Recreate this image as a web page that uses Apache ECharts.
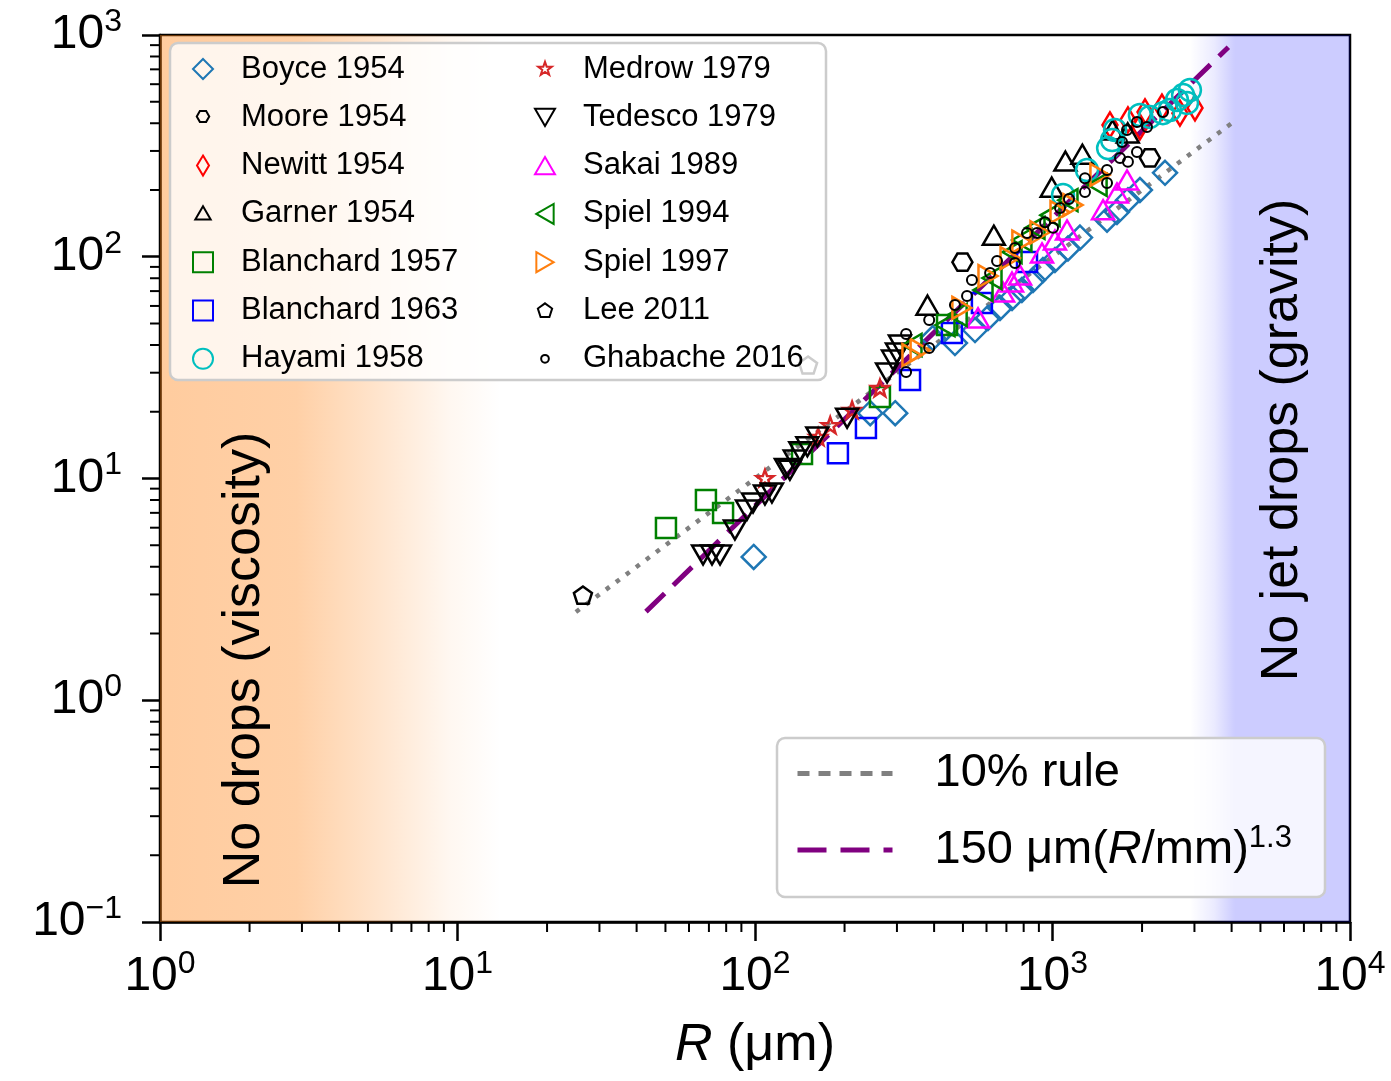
<!DOCTYPE html>
<html>
<head>
<meta charset="utf-8">
<script src="https://cdn.jsdelivr.net/npm/echarts@6/dist/echarts.min.js"></script>
<style>
  html, body { margin: 0; background: #fff; }
  #chart { width: 1391px; height: 1081px; }
</style>
</head>
<body>
<div id="chart"></div>
<script>
// --- data (R in um, h in um) ---
const boyceR = [99, 244, 296, 396, 470, 549, 607, 666, 731, 789, 860, 929, 1019, 1127, 1237, 1525, 1647, 1793, 1967, 2389];
const boyceH = [4.43, 19.7, 19.7, 43, 40.8, 46.7, 53, 58.8, 65.2, 70.8, 78.5, 87.1, 96.7, 109, 122, 147, 159, 180, 200, 239];
const mooreR = [498, 2125];
const mooreH = [94.5, 279];
const newittR = [1560, 1793, 1967, 2046, 2333, 2681, 3013];
const newittH = [393, 414, 385, 450, 473, 444, 469];
const garnerR = [380, 635, 994, 1105, 1260, 1590, 1790];
const garnerH = [60.5, 125, 206, 270, 290, 373, 362];
const blanch57R = [50.2, 68.4, 78.1, 143.9, 263, 442];
const blanch57H = [5.98, 8.0, 6.99, 12.9, 23.3, 49.2];
const blanch63R = [190, 236, 332, 459, 579, 821];
const blanch63H = [13.0, 16.9, 27.8, 45.3, 61.8, 94.7];
const hayamiR = [1085, 1306, 1538, 1586, 1623, 1967, 2125, 2350, 2481, 2621, 2748, 2897, 2832];
const hayamiH = [190, 246, 309, 336, 373, 436, 427, 444, 459, 509, 536, 565, 494];
const medrowR = [108, 163, 179, 212, 263];
const medrowH = [10.05, 15.4, 17.4, 20.4, 25.6];
const tedescoR = [66.9, 71.7, 76.3, 85.6, 94, 98.5, 108, 114, 127, 131, 136, 142, 150, 162, 204, 278, 291, 300, 307];
const tedescoH = [4.52, 4.52, 4.52, 5.86, 7.2, 7.76, 8.43, 8.6, 11.1, 10.9, 12.1, 13.2, 13.9, 15.4, 18.7, 29.9, 34.2, 36.8, 40];
const sakaiR = [562, 682, 731, 778, 922, 1019, 1119, 1479, 1647, 1780];
const sakaiH = [53, 69.3, 76.9, 82.7, 104, 119, 132, 163, 194, 222];
const spiel94R = [337, 435, 478, 584, 626, 731, 789, 873, 981, 1127, 1412];
const spiel94H = [40, 49.2, 54.6, 70.8, 80.2, 105, 119, 135, 154, 180, 211];
const spiel97R = [337, 359, 496, 607, 720, 789, 908, 1060, 1172, 1444];
const spiel97H = [36, 37.9, 58.8, 81.8, 98.6, 117, 129, 159, 171, 234];
const leeR = [26.4, 150.8];
const leeH = [2.98, 32.5];
const ghabacheR = [322, 322, 385, 385, 470, 516, 536, 617, 651, 748, 748, 821, 887, 944, 1004, 1060, 1136, 1286, 1286, 1525, 1525, 1686, 1793, 1923, 1713, 1780, 1923, 2078, 2352];
const ghabacheH = [44.8, 30.2, 51.8, 38.8, 60.6, 66.5, 78.5, 84.5, 95.7, 93.7, 109.5, 128, 128, 143, 135, 166, 182, 226, 196, 246, 215, 279, 268, 297, 329, 373, 405, 385, 450];

// model lines (end points)
const ruleR = [25, 4000];
const ruleH = [2.5, 400];
const fitR = [43, 3900];
const fitH = [2.51, 880];

// regime bands (R limits)
const viscBand = [1, 14];
const gravBand = [2900, 10000];

// minor tick values
const minorXTicks = [2, 3, 4, 5, 6, 7, 8, 9, 20, 30, 40, 50, 60, 70, 80, 90, 200, 300, 400, 500, 600, 700, 800, 900, 2000, 3000, 4000, 5000, 6000, 7000, 8000, 9000];
const minorYTicks = [0.2, 0.3, 0.4, 0.5, 0.6, 0.7, 0.8, 0.9, 2, 3, 4, 5, 6, 7, 8, 9, 20, 30, 40, 50, 60, 70, 80, 90, 200, 300, 400, 500, 600, 700, 800, 900];

const FONT = '"Liberation Sans", Arial, Helvetica, sans-serif';

// marker shapes
const SYM = {
  diamond: 'path://M5,0 L10,5 L5,10 L0,5 Z',
  thinDiamond: 'path://M3,0 L6,5 L3,10 L0,5 Z',
  square: 'path://M0,0 L10,0 L10,10 L0,10 Z',
  circle: 'path://M0,5 A5,5 0 1,0 10,5 A5,5 0 1,0 0,5 Z',
  triUp: 'path://M5,0 L10,8.66 L0,8.66 Z',
  triDown: 'path://M0,0 L10,0 L5,8.66 Z',
  triLeft: 'path://M0,5 L8.66,0 L8.66,10 Z',
  triRight: 'path://M0,0 L8.66,5 L0,10 Z',
  hexagon: 'path://M0,4.33 L2.5,0 L7.5,0 L10,4.33 L7.5,8.66 L2.5,8.66 Z',
  pentagon: 'path://M5,0 L10,3.63 L8.09,9.51 L1.91,9.51 L0,3.63 Z',
  star: 'path://M5,0 L6.18,3.38 L9.76,3.45 L6.9,5.62 L7.94,9.05 L5,7 L2.06,9.05 L3.1,5.62 L0.24,3.45 L3.82,3.38 Z'
};
// padded icons so small markers stay small in the legend
const ICON_SMALL = {
  star: 'path://M-2,-2 M12,12 M5,0 L6.18,3.38 L9.76,3.45 L6.9,5.62 L7.94,9.05 L5,7 L2.06,9.05 L3.1,5.62 L0.24,3.45 L3.82,3.38 Z',
  hexagon: 'path://M-3,-3 M13,13 M0,4.33 L2.5,0 L7.5,0 L10,4.33 L7.5,8.66 L2.5,8.66 Z',
  dot: 'path://M-8,-8 M18,18 M0,5 A5,5 0 1,0 10,5 A5,5 0 1,0 0,5 Z',
  pentagon: 'path://M-2,-2 M12,12 M5,0 L10,3.63 L8.09,9.51 L1.91,9.51 L0,3.63 Z',
  triangle: 'path://M-1.5,-1.5 M11.5,11.5 M5,0 L10,8.66 L0,8.66 Z'
};

const zip = (a, b) => a.map((v, i) => [v, b[i]]);

const scatter = (name, R, H, symbol, size, color, lw) => ({
  name: name,
  type: 'scatter',
  data: zip(R, H),
  symbol: symbol,
  symbolSize: size,
  symbolKeepAspect: true,
  itemStyle: { color: 'rgba(0,0,0,0)', borderColor: color, borderWidth: lw || 2.5, opacity: 1 },
  emphasis: { disabled: true },
  z: 2
});

const scatterSeries = [
  scatter('Boyce 1954', boyceR, boyceH, SYM.diamond, 24, '#1f77b4'),
  scatter('Moore 1954', mooreR, mooreH, SYM.hexagon, 20, '#000000'),
  scatter('Newitt 1954', newittR, newittH, SYM.thinDiamond, 25, '#ff0000'),
  scatter('Garner 1954', garnerR, garnerH, SYM.triUp, 22, '#000000'),
  scatter('Blanchard 1957', blanch57R, blanch57H, SYM.square, 20, '#008000'),
  scatter('Blanchard 1963', blanch63R, blanch63H, SYM.square, 20, '#0000ff'),
  scatter('Hayami 1958', hayamiR, hayamiH, SYM.circle, 22, '#00bfbf'),
  scatter('Medrow 1979', medrowR, medrowH, SYM.star, 17, '#d62728'),
  scatter('Tedesco 1979', tedescoR, tedescoH, SYM.triDown, 22, '#000000'),
  scatter('Sakai 1989', sakaiR, sakaiH, SYM.triUp, 22, '#ff00ff'),
  scatter('Spiel 1994', spiel94R, spiel94H, SYM.triLeft, 22, '#008000'),
  scatter('Spiel 1997', spiel97R, spiel97H, SYM.triRight, 22, '#ff7f0e'),
  scatter('Lee 2011', leeR, leeH, SYM.pentagon, 18, '#000000'),
  scatter('Ghabache 2016', ghabacheR, ghabacheH, SYM.circle, 10, '#000000', 2)
];

const legendIcons = {
  'Moore 1954': ICON_SMALL.hexagon,
  'Garner 1954': ICON_SMALL.triangle,
  'Medrow 1979': ICON_SMALL.star,
  'Lee 2011': ICON_SMALL.pentagon,
  'Ghabache 2016': ICON_SMALL.dot
};
const legendData = names => names.map(n => {
  const s = scatterSeries.find(x => x.name === n);
  return { name: n, icon: legendIcons[n] || s.symbol };
});

const powLabel = v => {
  const e = Math.round(Math.log10(v));
  return '{b|10}{s|' + (e < 0 ? '\u2212' + (-e) : e) + '}';
};
const tickRich = {
  b: { fontSize: 48, lineHeight: 58, fontFamily: FONT, color: '#000' },
  s: { fontSize: 32, lineHeight: 32, fontFamily: FONT, color: '#000', verticalAlign: 'top' }
};

const minorTickSeries = (values, isX) => ({
  type: 'custom',
  silent: true,
  clip: false,
  z: 5,
  data: values.map(v => isX ? [v, 0.1] : [1, v]),
  renderItem: (params, api) => {
    const p = api.coord([api.value(0), api.value(1)]);
    return {
      type: 'line',
      shape: isX ? { x1: p[0], y1: p[1], x2: p[0], y2: p[1] + 10 }
                 : { x1: p[0], y1: p[1], x2: p[0] - 10, y2: p[1] },
      style: { stroke: '#000', lineWidth: 2 }
    };
  }
});

const legendText = { fontSize: 31, lineHeight: 34, fontFamily: FONT, color: '#000', padding: [0, 0, 0, 23] };

const chart = echarts.init(document.getElementById('chart'));

const option = {
  backgroundColor: '#ffffff',
  animation: false,
  grid: {
    left: 160, top: 35, right: 41, bottom: 159,
    show: true, borderColor: '#000', borderWidth: 2.5, backgroundColor: '#ffffff'
  },
  xAxis: {
    type: 'log', logBase: 10, min: 1, max: 10000, splitNumber: 4,
    name: '{i|R}{n| (\u03bcm)}',
    nameLocation: 'middle', nameGap: 98,
    nameTextStyle: {
      rich: {
        i: { fontSize: 52, fontStyle: 'italic', fontFamily: FONT, color: '#000' },
        n: { fontSize: 52, fontFamily: FONT, color: '#000' }
      }
    },
    axisLine: { lineStyle: { color: '#000', width: 2.5 } },
    axisTick: { inside: false, length: 19, lineStyle: { color: '#000', width: 2.5 } },
    axisLabel: { formatter: powLabel, rich: tickRich, margin: 26, showMinLabel: true, showMaxLabel: true },
    splitLine: { show: false }
  },
  yAxis: {
    type: 'log', logBase: 10, min: 0.1, max: 1000, splitNumber: 4,
    axisLine: { lineStyle: { color: '#000', width: 2.5 } },
    axisTick: { inside: false, length: 18, lineStyle: { color: '#000', width: 2.5 } },
    axisLabel: { formatter: powLabel, rich: tickRich, margin: 38, showMinLabel: true, showMaxLabel: true },
    splitLine: { show: false }
  },
  legend: [
    {
      orient: 'vertical', left: 192, top: 52, padding: 0,
      itemGap: 14.3, itemWidth: 20, itemHeight: 20, selectedMode: false,
      data: legendData(['Boyce 1954', 'Moore 1954', 'Newitt 1954', 'Garner 1954', 'Blanchard 1957', 'Blanchard 1963', 'Hayami 1958']),
      textStyle: legendText
    },
    {
      orient: 'vertical', left: 534, top: 52, padding: 0,
      itemGap: 14.3, itemWidth: 20, itemHeight: 20, selectedMode: false,
      data: legendData(['Medrow 1979', 'Tedesco 1979', 'Sakai 1989', 'Spiel 1994', 'Spiel 1997', 'Lee 2011', 'Ghabache 2016']),
      textStyle: legendText
    },
    {
      orient: 'vertical', left: 795, top: 750, padding: 0,
      itemGap: 26, itemWidth: 95, itemHeight: 14, selectedMode: false,
      itemStyle: { color: 'rgba(0,0,0,0)', borderWidth: 0, opacity: 0 },
      data: [
        { name: '10% rule', lineStyle: { width: 5, type: [12, 9] } },
        { name: '150 \u03bcm(R/mm)^1.3', lineStyle: { width: 5, type: [29, 14] } }
      ],
      formatter: name => name === '10% rule'
        ? '{n|10% rule}'
        : '{n|150 \u03bcm(}{i|R}{n|/mm)}{s|1.3}',
      textStyle: {
        padding: [0, 0, 0, 37],
        rich: {
          n: { fontSize: 47, lineHeight: 54, fontFamily: FONT, color: '#000' },
          i: { fontSize: 47, lineHeight: 54, fontStyle: 'italic', fontFamily: FONT, color: '#000' },
          s: { fontSize: 31, lineHeight: 31, fontFamily: FONT, color: '#000', verticalAlign: 'top' }
        }
      }
    }
  ],
  graphic: [
    {
      type: 'text', x: 245, y: 660, rotation: Math.PI / 2, z: 3, silent: true,
      style: { text: 'No drops (viscosity)', fontSize: 52, fontFamily: FONT, fill: '#000', align: 'center', verticalAlign: 'middle' }
    },
    {
      type: 'text', x: 1283, y: 440, rotation: Math.PI / 2, z: 3, silent: true,
      style: { text: 'No jet drops (gravity)', fontSize: 52, fontFamily: FONT, fill: '#000', align: 'center', verticalAlign: 'middle' }
    },
    {
      type: 'rect', z: 3, silent: true,
      shape: { x: 170, y: 43, width: 656, height: 337, r: 8 },
      style: { fill: 'rgba(255,255,255,0.8)', stroke: '#cccccc', lineWidth: 2.5 }
    },
    {
      type: 'rect', z: 3, silent: true,
      shape: { x: 777, y: 738, width: 548, height: 159, r: 8 },
      style: { fill: 'rgba(255,255,255,0.8)', stroke: '#cccccc', lineWidth: 2.5 }
    }
  ],
  series: [
    {
      name: '10% rule',
      type: 'line',
      data: zip(ruleR, ruleH),
      symbol: 'none',
      z: 1,
      silent: true,
      lineStyle: { color: '#808080', width: 4.5, type: [4.5, 8] },
      itemStyle: { color: '#808080' },
      markArea: {
        silent: true,
        label: { show: false },
        data: [
          [{ xAxis: viscBand[0], yAxis: 0.1, itemStyle: { opacity: 1, color: {
              type: 'linear', x: 0, y: 0, x2: 1, y2: 0,
              colorStops: [
                { offset: 0, color: 'rgba(255,127,14,0.4)' },
                { offset: 0.4, color: 'rgba(255,127,14,0.37)' },
                { offset: 0.65, color: 'rgba(255,127,14,0.2)' },
                { offset: 0.85, color: 'rgba(255,127,14,0.06)' },
                { offset: 1, color: 'rgba(255,127,14,0)' }
              ] } } },
           { xAxis: viscBand[1], yAxis: 1000 }],
          [{ xAxis: gravBand[0], yAxis: 0.1, itemStyle: { opacity: 1, color: {
              type: 'linear', x: 0, y: 0, x2: 1, y2: 0,
              colorStops: [
                { offset: 0, color: 'rgba(0,0,255,0)' },
                { offset: 0.15, color: 'rgba(0,0,255,0.08)' },
                { offset: 0.28, color: 'rgba(0,0,255,0.2)' },
                { offset: 1, color: 'rgba(0,0,255,0.2)' }
              ] } } },
           { xAxis: gravBand[1], yAxis: 1000 }]
        ]
      }
    },
    {
      name: '150 \u03bcm(R/mm)^1.3',
      type: 'line',
      data: zip(fitR, fitH),
      symbol: 'none',
      z: 1,
      silent: true,
      lineStyle: { color: '#800080', width: 5, type: [26, 12] },
      itemStyle: { color: '#800080' }
    },
    ...scatterSeries,
    minorTickSeries(minorXTicks, true),
    minorTickSeries(minorYTicks, false)
  ]
};

chart.setOption(option);
window.addEventListener('resize', () => chart.resize());
</script>
</body>
</html>
